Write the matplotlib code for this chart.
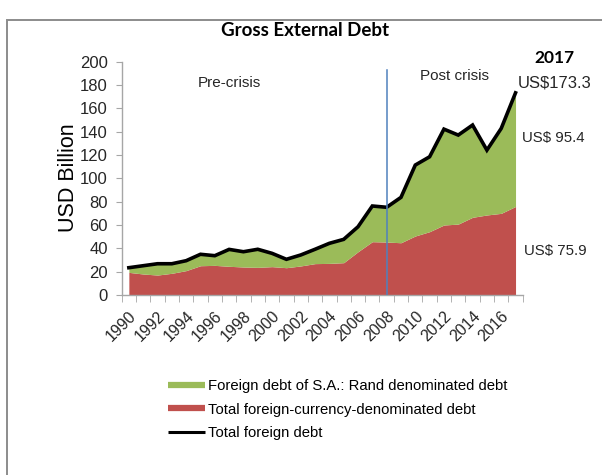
import matplotlib

matplotlib.use('Agg')
import matplotlib.pyplot as plt
from matplotlib.lines import Line2D
from matplotlib.patches import Rectangle

# Gross external debt of South Africa, USD billion
years = list(range(1990, 2018))
total_debt = [23.4, 25.1, 26.8, 26.8, 29.4, 34.9, 33.7, 39.1, 37.1, 39.2,
              35.7, 30.6, 34.3, 39.2, 44.3, 47.7, 58.5, 76.3, 75.2, 83.7,
              111.4, 118.5, 142.2, 137.1, 145.7, 124.2, 142.8, 173.3]
fx_debt = [19.4, 18.0, 17.1, 18.6, 20.9, 25.1, 25.4, 24.6, 24.0, 23.7,
           24.3, 23.4, 24.9, 26.9, 27.1, 27.7, 37.1, 45.7, 45.4, 44.8,
           50.6, 54.3, 60.0, 60.8, 66.6, 68.6, 70.0, 75.9]
rand_debt = [4.0, 7.1, 9.7, 8.2, 8.5, 9.8, 8.3, 14.5, 13.1, 15.5,
             11.4, 7.2, 9.4, 12.3, 17.2, 20.0, 21.4, 30.6, 29.8, 38.9,
             60.8, 64.2, 82.2, 76.3, 79.1, 55.6, 72.8, 95.4]
label_years = years[::2]
crisis_year = 2008.05
crisis_line_top = 193

GREEN = '#9BBB59'
RED = '#C0504D'
BLUE = '#4F81BD'
AXIS = '#A6A6A6'
TXT = '#262626'

W, H = 602, 475
plt.rcParams['font.family'] = ['Liberation Sans', 'DejaVu Sans']

fig = plt.figure(figsize=(W / 100, H / 100), dpi=100)


def px(x, y):
    return x / W, 1 - y / H


ax = fig.add_axes([121.7 / W, 1 - 295 / H, 401 / W, 233.3 / H])

stack_top = [a + b for a, b in zip(fx_debt, rand_debt)]
ax.fill_between(years, 0, fx_debt, color=RED, lw=0, zorder=2)
ax.fill_between(years, fx_debt, stack_top, color=GREEN, lw=0, zorder=2)
ax.plot(years, total_debt, color='black', lw=2.6, solid_joinstyle='miter', zorder=3)
ax.plot([crisis_year, crisis_year], [0, crisis_line_top], color=BLUE, lw=1.1, zorder=4)

ax.set_xlim(years[0] - 0.5, years[-1] + 0.5)
ax.set_ylim(0, 200)
ax.set_yticks(range(0, 201, 20))
ax.tick_params(axis='y', length=4, color=AXIS, labelsize=12, labelcolor=TXT, pad=6)

# year labels sit on category centres, tick marks on category boundaries
ax.set_xticks(label_years)
ax.set_xticklabels([str(y) for y in label_years], rotation=45, ha='right', va='top',
                   rotation_mode='anchor', fontsize=11.5, color=TXT)
ax.set_xticks([y - 0.5 for y in years + [years[-1] + 1]], minor=True)
ax.tick_params(axis='x', which='major', length=0, pad=9.5)
ax.tick_params(axis='x', which='minor', length=5, color=AXIS)

for s in ['top', 'right']:
    ax.spines[s].set_visible(False)
for s in ['left', 'bottom']:
    ax.spines[s].set_color(AXIS)
    ax.spines[s].set_linewidth(1)

ax.text(*px(229, 83), 'Pre-crisis', transform=fig.transFigure, ha='center', va='center',
        fontsize=11, color=TXT)
ax.text(*px(454, 76), 'Post crisis', transform=fig.transFigure, ha='center', va='center',
        fontsize=11, color=TXT)

fig.text(*px(68, 178), 'USD Billion', rotation=90, ha='center', va='center', fontsize=15.5, color='black')
fig.text(*px(305, 30), 'Gross External Debt', ha='center', va='center', fontsize=13.5,
         fontweight='bold', family='Lato', color='black')
fig.text(*px(554, 58), str(years[-1]), ha='center', va='center', fontsize=12.5,
         fontweight='bold', family='Lato', color='black')
fig.text(*px(555, 83), f'US${total_debt[-1]:.1f}', ha='center', va='center', fontsize=12, color=TXT)
fig.text(*px(553, 138), f'US$ {rand_debt[-1]:.1f}', ha='center', va='center', fontsize=10.8, color=TXT)
fig.text(*px(555, 251), f'US$ {fx_debt[-1]:.1f}', ha='center', va='center', fontsize=10.8, color=TXT)

handles = [Line2D([], [], color=GREEN, lw=4.5, solid_capstyle='butt'),
           Line2D([], [], color=RED, lw=4.5, solid_capstyle='butt'),
           Line2D([], [], color='black', lw=2.2, solid_capstyle='butt')]
labels = ['Foreign debt of S.A.: Rand denominated debt',
          'Total foreign-currency-denominated debt',
          'Total foreign debt']
fig.legend(handles, labels, loc='upper left', bbox_to_anchor=px(168, 379), frameon=False,
           fontsize=10.75, handlelength=2.5, handletextpad=0.2, labelspacing=0.65,
           borderpad=0, borderaxespad=0)

fig.patches.append(Rectangle(px(7, H + 20), 1, 1, transform=fig.transFigure,
                             fill=False, edgecolor='#8C8C8C', lw=1.4))

fig.savefig('out.png', dpi=100)
